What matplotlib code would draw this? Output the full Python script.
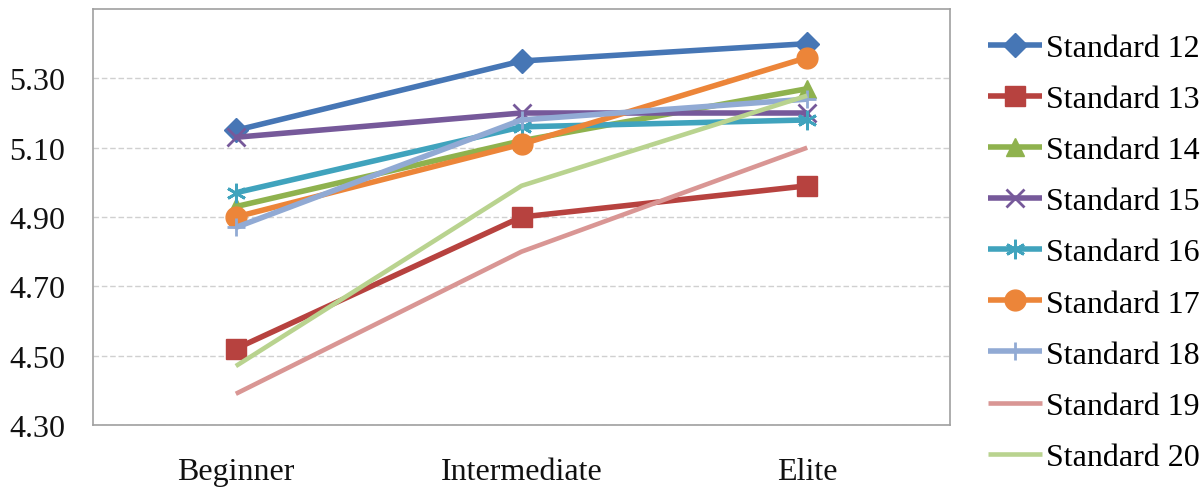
import matplotlib
matplotlib.use('Agg')
import matplotlib.pyplot as plt

levels = ['Beginner', 'Intermediate', 'Elite']
std12 = [5.15, 5.35, 5.40]
std13 = [4.52, 4.90, 4.99]
std14 = [4.93, 5.12, 5.27]
std15 = [5.13, 5.20, 5.20]
std16 = [4.97, 5.16, 5.18]
std17 = [4.90, 5.11, 5.36]
std18 = [4.87, 5.18, 5.24]
std19 = [4.39, 4.80, 5.10]
std20 = [4.47, 4.99, 5.25]

series = [
    ('Standard 12', std12, '#4676B5', 'D', 12),
    ('Standard 13', std13, '#B7423F', 's', 14),
    ('Standard 14', std14, '#8FB24E', '^', 13),
    ('Standard 15', std15, '#76599A', 'x', 13),
    ('Standard 16', std16, '#40A3BD', (6, 2, 0), 14),
    ('Standard 17', std17, '#EC8539', 'o', 15),
    ('Standard 18', std18, '#91AAD4', '+', 13),
    ('Standard 19', std19, '#D99694', None, 0),
    ('Standard 20', std20, '#B9D38F', None, 0),
]

plt.rcParams['font.family'] = ['Liberation Serif', 'DejaVu Serif']

fig = plt.figure(figsize=(12.04, 4.89), dpi=100)
ax = fig.add_axes([93/1204, 1 - 426/489, (950 - 93)/1204, (426 - 10)/489])

x = list(range(len(levels)))
for name, vals, col, mk, ms in series:
    lw = 4.0 if mk is not None else 3.3
    ax.plot(x, vals, color=col, lw=lw, marker=mk, markersize=ms,
            markeredgewidth=2 if mk in ('x', '+', (6, 2, 0)) else 1,
            markeredgecolor=col, markerfacecolor=col, label=name,
            solid_capstyle='butt', zorder=3)

ax.set_xlim(-0.5, 2.5)
ax.set_ylim(4.30, 5.50)
ax.set_yticks([4.30, 4.50, 4.70, 4.90, 5.10, 5.30])
ax.set_yticklabels(['%.2f' % v for v in [4.30, 4.50, 4.70, 4.90, 5.10, 5.30]])
ax.set_xticks(x)
ax.set_xticklabels(levels)
ax.tick_params(length=0, labelsize=23, colors='#111111')
ax.tick_params(axis='y', pad=20)
ax.tick_params(axis='x', pad=23)
ax.yaxis.grid(True, color='#D0D0D0', ls=(0, (4, 2)), lw=1)
ax.set_axisbelow(True)
for s in ax.spines.values():
    s.set_color('#A0A0A0')
    s.set_linewidth(1.2)

fig.legend(loc='center left', bbox_to_anchor=(988/1204, 0.481), frameon=False,
           fontsize=23, handlelength=1.7, handletextpad=0.1,
           labelspacing=0.68, borderpad=0, borderaxespad=0)

fig.savefig('out.png', dpi=100)
